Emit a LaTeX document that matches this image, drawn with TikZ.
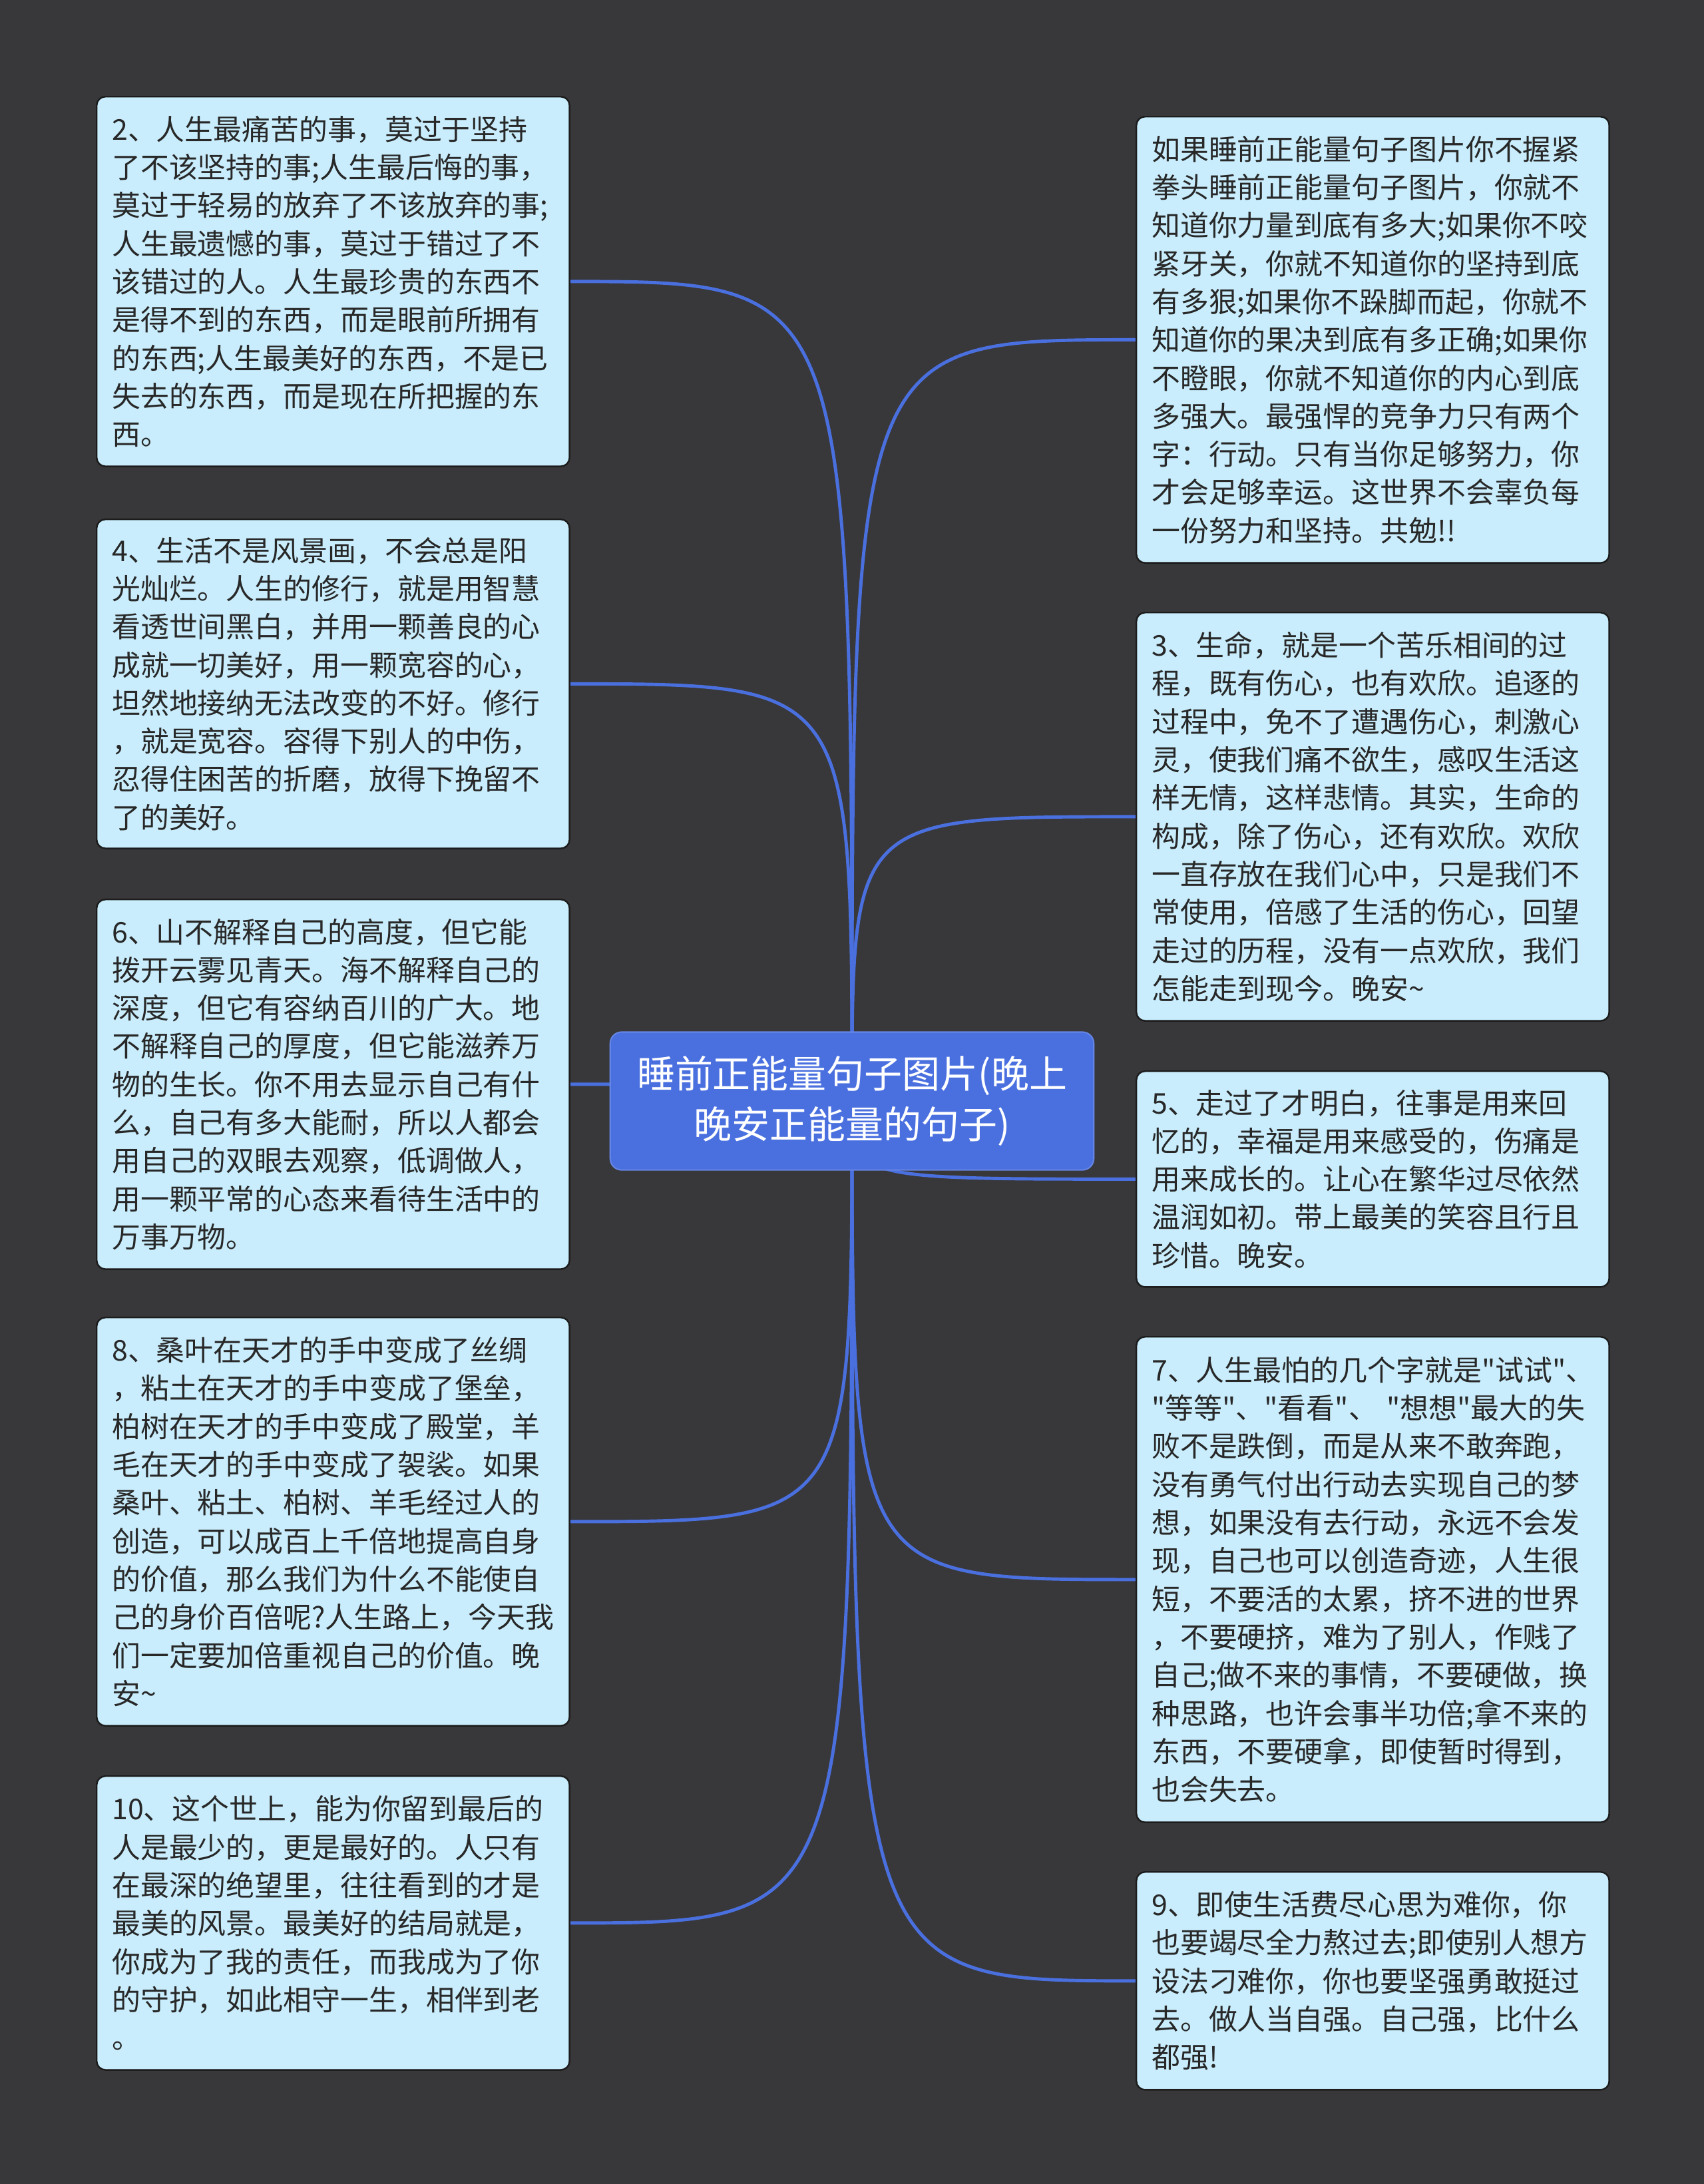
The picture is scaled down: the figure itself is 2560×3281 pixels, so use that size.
\documentclass[tikz,border=0pt]{standalone}
\usepackage{fontspec}
\newfontfamily\cjkfont{Noto Sans CJK SC}
\usetikzlibrary{backgrounds}
\definecolor{canvas}{RGB}{56,56,58}
\definecolor{hubblue}{RGB}{74,112,224}
\definecolor{cardfill}{RGB}{201,237,252}
\definecolor{cardedge}{RGB}{28,28,28}
\definecolor{inkgray}{RGB}{40,40,40}

\begin{document}
\begin{tikzpicture}[x=0.01cm, y=-0.01cm]

  % Styles
  \tikzset{
    hub/.style={fill=hubblue, draw=hubblue!85!white, line width=0.6pt, rounded corners=0.17cm,
      minimum width=7.26cm, minimum height=2.07cm, align=center, text=white,
      font=\cjkfont\fontsize{16.2pt}{21.4pt}\selectfont},
    card/.style={fill=cardfill, draw=cardedge, line width=0.7pt, rounded corners=0.13cm,
      anchor=north west, text width=6.64cm, inner xsep=0.23cm, inner ysep=0pt,
      align=left, text=inkgray, font=\cjkfont\fontsize{12.2pt}{16.3pt}\selectfont},
    branch/.style={draw=hubblue, line width=1.4pt}
  }

  % --- CENTRAL TOPIC ---
  \node[hub] (hub) at (1280,1654) {睡前正能量句子图片(晚上\\晚安正能量的句子)};

  % --- LEFT CARDS ---
  \node[card, minimum height=5.55cm] (q2) at (144,144) {2、人生最痛苦的事，莫过于坚持\\
    了不该坚持的事;人生最后悔的事，\\
    莫过于轻易的放弃了不该放弃的事;\\
    人生最遗憾的事，莫过于错过了不\\
    该错过的人。人生最珍贵的东西不\\
    是得不到的东西，而是眼前所拥有\\
    的东西;人生最美好的东西，不是已\\
    失去的东西，而是现在所把握的东\\
    西。};
  \node[card, minimum height=4.94cm] (q4) at (144,779) {4、生活不是风景画，不会总是阳\\
    光灿烂。人生的修行，就是用智慧\\
    看透世间黑白，并用一颗善良的心\\
    成就一切美好，用一颗宽容的心，\\
    坦然地接纳无法改变的不好。修行\\
    ，就是宽容。容得下别人的中伤，\\
    忍得住困苦的折磨，放得下挽留不\\
    了的美好。};
  \node[card, minimum height=5.55cm] (q6) at (144,1350) {6、山不解释自己的高度，但它能\\
    拨开云雾见青天。海不解释自己的\\
    深度，但它有容纳百川的广大。地\\
    不解释自己的厚度，但它能滋养万\\
    物的生长。你不用去显示自己有什\\
    么，自己有多大能耐，所以人都会\\
    用自己的双眼去观察，低调做人，\\
    用一颗平常的心态来看待生活中的\\
    万事万物。};
  \node[card, minimum height=6.13cm] (q8) at (144,1978) {8、桑叶在天才的手中变成了丝绸\\
    ，粘土在天才的手中变成了堡垒，\\
    柏树在天才的手中变成了殿堂，羊\\
    毛在天才的手中变成了袈裟。如果\\
    桑叶、粘土、柏树、羊毛经过人的\\
    创造，可以成百上千倍地提高自身\\
    的价值，那么我们为什么不能使自\\
    己的身价百倍呢?人生路上，今天我\\
    们一定要加倍重视自己的价值。晚\\
    安\textasciitilde};
  \node[card, minimum height=4.41cm] (q10) at (144,2667) {10、这个世上，能为你留到最后的\\
    人是最少的，更是最好的。人只有\\
    在最深的绝望里，往往看到的才是\\
    最美的风景。最美好的结局就是，\\
    你成为了我的责任，而我成为了你\\
    的守护，如此相守一生，相伴到老\\
    。};

  % --- RIGHT CARDS ---
  \node[card, minimum height=6.70cm] (q1) at (1706,174) {如果睡前正能量句子图片你不握紧\\
    拳头睡前正能量句子图片，你就不\\
    知道你力量到底有多大;如果你不咬\\
    紧牙关，你就不知道你的坚持到底\\
    有多狠;如果你不跺脚而起，你就不\\
    知道你的果决到底有多正确;如果你\\
    不瞪眼，你就不知道你的内心到底\\
    多强大。最强悍的竞争力只有两个\\
    字：行动。只有当你足够努力，你\\
    才会足够幸运。这世界不会辜负每\\
    一份努力和坚持。共勉!!};
  \node[card, minimum height=6.13cm] (q3) at (1706,919) {3、生命，就是一个苦乐相间的过\\
    程，既有伤心，也有欢欣。追逐的\\
    过程中，免不了遭遇伤心，刺激心\\
    灵，使我们痛不欲生，感叹生活这\\
    样无情，这样悲情。其实，生命的\\
    构成，除了伤心，还有欢欣。欢欣\\
    一直存放在我们心中，只是我们不\\
    常使用，倍感了生活的伤心，回望\\
    走过的历程，没有一点欢欣，我们\\
    怎能走到现今。晚安\textasciitilde};
  \node[card, minimum height=3.24cm] (q5) at (1706,1608) {5、走过了才明白，往事是用来回\\
    忆的，幸福是用来感受的，伤痛是\\
    用来成长的。让心在繁华过尽依然\\
    温润如初。带上最美的笑容且行且\\
    珍惜。晚安。};
  \node[card, minimum height=7.29cm] (q7) at (1706,2007) {7、人生最怕的几个字就是"试试"、\\
    "等等"、"看看"、 "想想"最大的失\\
    败不是跌倒，而是从来不敢奔跑，\\
    没有勇气付出行动去实现自己的梦\\
    想，如果没有去行动，永远不会发\\
    现，自己也可以创造奇迹，人生很\\
    短，不要活的太累，挤不进的世界\\
    ，不要硬挤，难为了别人，作贱了\\
    自己;做不来的事情，不要硬做，换\\
    种思路，也许会事半功倍;拿不来的\\
    东西，不要硬拿，即使暂时得到，\\
    也会失去。};
  \node[card, minimum height=3.27cm] (q9) at (1706,2811) {9、即使生活费尽心思为难你，你\\
    也要竭尽全力熬过去;即使别人想方\\
    设法刁难你，你也要坚强勇敢挺过\\
    去。做人当自强。自己强，比什么\\
    都强!};

  % --- CONNECTORS (behind the cards) ---
  \begin{scope}[on background layer]
    \fill[canvas] (0,0) rectangle (2560,3281);
    \foreach \c in {q2,q4,q6,q8,q10}
      \draw[branch] (hub.center) .. controls (hub.center |- \c.east) .. (\c.east);
    \foreach \c in {q1,q3,q5,q7,q9}
      \draw[branch] (hub.center) .. controls (hub.center |- \c.west) .. (\c.west);
  \end{scope}

\end{tikzpicture}
\end{document}
